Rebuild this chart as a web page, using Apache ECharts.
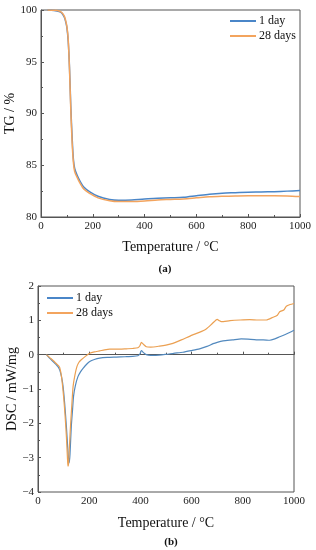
<!DOCTYPE html>
<html><head><meta charset="utf-8">
<script src="https://cdn.jsdelivr.net/npm/echarts@6/dist/echarts.min.js"></script>
<style>html,body{margin:0;padding:0;background:#fff}#c{width:316px;height:550px}</style>
</head><body><div id="c"></div>
<script>
var seriesNames = ['1 day', '28 days'];
var tgTemp = [25, 50, 70, 80, 90, 95, 100, 105, 110, 115, 120, 125, 130, 140, 150, 165, 190, 220, 265, 300, 350, 400, 450, 500, 550, 600, 650, 700, 750, 800, 850, 900, 950, 1000];
var tg1 = [100, 99.95, 99.85, 99.7, 99.3, 98.9, 98.3, 97.0, 94.5, 90.7, 87.8, 85.6, 84.7, 84.0, 83.5, 82.9, 82.4, 82.0, 81.7, 81.62, 81.65, 81.75, 81.8, 81.85, 81.9, 82.05, 82.2, 82.3, 82.35, 82.4, 82.42, 82.45, 82.5, 82.55];
var tg28 = [100, 99.97, 99.9, 99.75, 99.4, 99.0, 98.4, 97.2, 94.3, 90.4, 87.3, 85.3, 84.4, 83.8, 83.3, 82.7, 82.25, 81.85, 81.58, 81.5, 81.5, 81.55, 81.65, 81.7, 81.75, 81.85, 81.95, 82.0, 82.03, 82.05, 82.05, 82.05, 82.03, 81.97];

var dscTemp1 = [33, 45, 59, 70, 78, 85, 92, 98, 104, 111, 116, 120, 122, 125, 130, 135, 139, 146, 156, 166, 176, 190, 202, 220, 241, 270, 306, 340, 370, 390, 398, 404, 412, 423, 440, 460, 501, 530, 566, 600, 631, 660, 684, 700, 723, 760, 794, 820, 853, 880, 905, 925, 944, 970, 1000];
var dsc1 = [0, -0.1, -0.2, -0.28, -0.35, -0.45, -0.65, -0.93, -1.4, -2.1, -2.7, -3.1, -3.15, -2.9, -2.1, -1.6, -1.2, -0.9, -0.64, -0.5, -0.4, -0.28, -0.2, -0.14, -0.1, -0.08, -0.07, -0.06, -0.05, -0.03, 0.02, 0.12, 0.06, 0.0, -0.02, -0.02, 0.01, 0.04, 0.07, 0.12, 0.17, 0.24, 0.32, 0.36, 0.40, 0.43, 0.46, 0.45, 0.43, 0.43, 0.42, 0.46, 0.52, 0.6, 0.71];
var dscTemp28 = [33, 45, 59, 70, 80, 85, 92, 100, 106, 111, 115, 117, 119, 122, 126, 131, 137, 144, 152, 160, 169, 185, 202, 220, 241, 260, 280, 320, 345, 370, 390, 398, 404, 412, 423, 440, 475, 500, 527, 560, 602, 630, 657, 680, 700, 708, 716, 750, 790, 827, 860, 892, 918, 935, 944, 960, 970, 985, 1000];
var dsc28 = [0, -0.08, -0.17, -0.25, -0.32, -0.38, -0.65, -1.22, -1.8, -2.4, -3.0, -3.25, -3.2, -2.8, -2.2, -1.6, -0.93, -0.6, -0.35, -0.22, -0.15, -0.05, 0.04, 0.08, 0.11, 0.14, 0.16, 0.16, 0.17, 0.18, 0.2, 0.26, 0.36, 0.3, 0.23, 0.22, 0.25, 0.28, 0.33, 0.43, 0.57, 0.65, 0.75, 0.9, 1.03, 0.99, 0.96, 0.99, 1.01, 1.02, 1.01, 1.01, 1.09, 1.15, 1.25, 1.3, 1.41, 1.46, 1.49];

function pairs(xs, ys) { return xs.map(function (x, i) { return [x, ys[i]]; }); }

var FONT = '"Liberation Serif", "DejaVu Serif", serif';
var AX = '#555';
var BLUE = '#4A86C8', ORANGE = '#F3A45E';
var BLUE2 = '#5289BE', ORANGE2 = '#EBA052';

function fmt(v) { return v < 0 ? '\u2212' + Math.abs(v) : String(v); }

function xAx(gi, gap) {
  return {
    gridIndex: gi, type: 'value', min: 0, max: 1000, interval: 200,
    name: 'Temperature / °C', nameLocation: 'middle', nameGap: gap, nameMoveOverlap: false,
    nameTextStyle: { fontFamily: FONT, fontSize: 14, color: '#111' },
    axisLine: { show: true, lineStyle: { color: AX, width: 1 } },
    axisTick: { show: true, inside: true, length: 3, lineStyle: { color: AX } },
    minorTick: { show: true, splitNumber: 2, length: 2, lineStyle: { color: AX } },
    splitLine: { show: false },
    axisLabel: { fontFamily: FONT, fontSize: 11, color: '#222', margin: 4, formatter: fmt }
  };
}
function yAx(gi, min, max, itv, name, gap) {
  return {
    gridIndex: gi, type: 'value', min: min, max: max, interval: itv,
    name: name, nameLocation: 'middle', nameGap: gap, nameRotate: 90, nameMoveOverlap: false,
    nameTextStyle: { fontFamily: FONT, fontSize: 14, color: '#111' },
    axisLine: { show: true, lineStyle: { color: AX, width: 1 } },
    axisTick: { show: true, inside: true, length: 3, lineStyle: { color: AX } },
    minorTick: { show: true, splitNumber: 2, length: 2, lineStyle: { color: AX } },
    splitLine: { show: false },
    axisLabel: { fontFamily: FONT, fontSize: 11, color: '#222', margin: 4, formatter: fmt }
  };
}
function legendAt(left, top) {
  return { orient: 'vertical', left: left, top: top, itemWidth: 26, itemHeight: 2, itemGap: 3,
    icon: 'rect', padding: 0,
    data: [{ name: '1 day' }, { name: '28 days' }],
    textStyle: { fontFamily: FONT, fontSize: 12, color: '#111', padding: [0, 0, 0, -2] } };
}

var chart = echarts.init(document.getElementById('c'), null, { renderer: 'canvas' });
chart.setOption({
  animation: false,
  backgroundColor: '#fff',
  title: [
    { text: '(a)', left: 160, top: 259, textAlign: 'center', textStyle: { fontFamily: FONT, fontSize: 11, fontWeight: 'bold', color: '#111' } },
    { text: '(b)', left: 166, top: 532, textAlign: 'center', textStyle: { fontFamily: FONT, fontSize: 11, fontWeight: 'bold', color: '#111' } }
  ],
  grid: [
    { left: 41, top: 10, width: 259, height: 207, show: true, borderColor: AX, borderWidth: 1, containLabel: false, outerBoundsMode: 'none' },
    { left: 38, top: 286, width: 256, height: 206, show: true, borderColor: AX, borderWidth: 1, containLabel: false, outerBoundsMode: 'none' }
  ],
  legend: [legendAt(230, 15), legendAt(47, 292)],
  xAxis: [xAx(0, 23), xAx(1, 24)],
  yAxis: [yAx(0, 80, 100, 5, 'TG / %', 24), yAx(1, -4, 2, 1, 'DSC / mW/mg', 19)],
  series: [
    { name: seriesNames[0], type: 'line', xAxisIndex: 0, yAxisIndex: 0, data: pairs(tgTemp, tg1), symbol: 'none', smooth: 0.3, lineStyle: { color: BLUE, width: 1.5 }, itemStyle: { color: BLUE } },
    { name: seriesNames[1], type: 'line', xAxisIndex: 0, yAxisIndex: 0, data: pairs(tgTemp, tg28), symbol: 'none', smooth: 0.3, lineStyle: { color: ORANGE, width: 1.5 }, itemStyle: { color: ORANGE } },
    { name: seriesNames[0], type: 'line', xAxisIndex: 1, yAxisIndex: 1, data: pairs(dscTemp1, dsc1), symbol: 'none', smooth: 0.2, lineStyle: { color: BLUE2, width: 1.2 }, itemStyle: { color: BLUE2 } },
    { name: seriesNames[1], type: 'line', xAxisIndex: 1, yAxisIndex: 1, data: pairs(dscTemp28, dsc28), symbol: 'none', smooth: 0.2, lineStyle: { color: ORANGE2, width: 1.2 }, itemStyle: { color: ORANGE2 } }
  ]
});
</script>
</body></html>
